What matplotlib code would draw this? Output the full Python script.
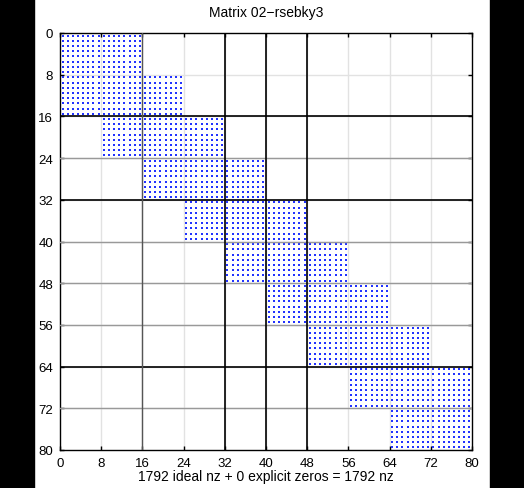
import matplotlib
matplotlib.use("Agg")
import matplotlib.pyplot as plt
import numpy as np

plt.rcParams['font.family'] = ['Liberation Sans', 'DejaVu Sans']

n = 80
block = 8
# column block range (start, end) filled in each block row of 8 rows
blk_first = [0, 0, 1, 2, 3, 4, 5, 6, 7, 8]
blk_last = [2, 3, 4, 5, 6, 7, 8, 9, 10, 10]
ticks = list(range(0, 81, 8))
row_parts = [16, 32, 64]
row_parts_mid = [24, 40, 48, 56, 72]
col_parts = [32, 40, 48]
col_parts_mid = [16]
title = "Matrix 02\u2212rsebky3"
nz_label = "1792 ideal nz + 0 explicit zeros = 1792 nz"

rows, cols = [], []
for b in range(len(blk_first)):
    for i in range(b * block, (b + 1) * block):
        for j in range(blk_first[b] * block, blk_last[b] * block):
            rows.append(i)
            cols.append(j)
rows = np.array(rows)
cols = np.array(cols)

fig = plt.figure(figsize=(5.24, 4.89), dpi=100)
fig.patches.append(plt.Rectangle((0, 0), 34 / 524, 1, transform=fig.transFigure,
                                 color='black', zorder=0))
fig.patches.append(plt.Rectangle((490 / 524, 0), 34 / 524, 1, transform=fig.transFigure,
                                 color='black', zorder=0))
ax = fig.add_axes([60 / 524, 1 - 451 / 489, 412 / 524, 417 / 489])

# gridlines at ticks
for t in ticks[1:-1]:
    ax.axhline(t, color='#e2e2e2', lw=1.0, zorder=1)
    ax.axvline(t, color='#e2e2e2', lw=1.0, zorder=1)
ax.plot(cols + 0.5, rows + 0.5, 's', color='#2233ff', markersize=2.15,
        markeredgewidth=0, linestyle='none', zorder=2, snap=False)
for t in row_parts_mid:
    ax.axhline(t, color='#999999', lw=1.0, zorder=3)
for t in row_parts:
    ax.axhline(t, color='black', lw=1.2, zorder=3)
for t in col_parts_mid:
    ax.axvline(t, color='#555555', lw=1.0, zorder=3)
for t in col_parts:
    ax.axvline(t, color='black', lw=1.2, zorder=3)

ax.set_xlim(0, n)
ax.set_ylim(n, 0)
ax.set_xticks(ticks)
ax.set_yticks(ticks)
ax.tick_params(direction='in', length=3, width=1, labelsize=9.5, top=True, right=True)
ax.tick_params(axis='y', pad=5)
ax.tick_params(axis='x', pad=5)
for s in ax.spines.values():
    s.set_linewidth(1.0)
ax.set_title(title, fontsize=10, pad=12)
ax.set_xlabel(nz_label, fontsize=10, labelpad=0)

fig.savefig("out.png", dpi=100)
